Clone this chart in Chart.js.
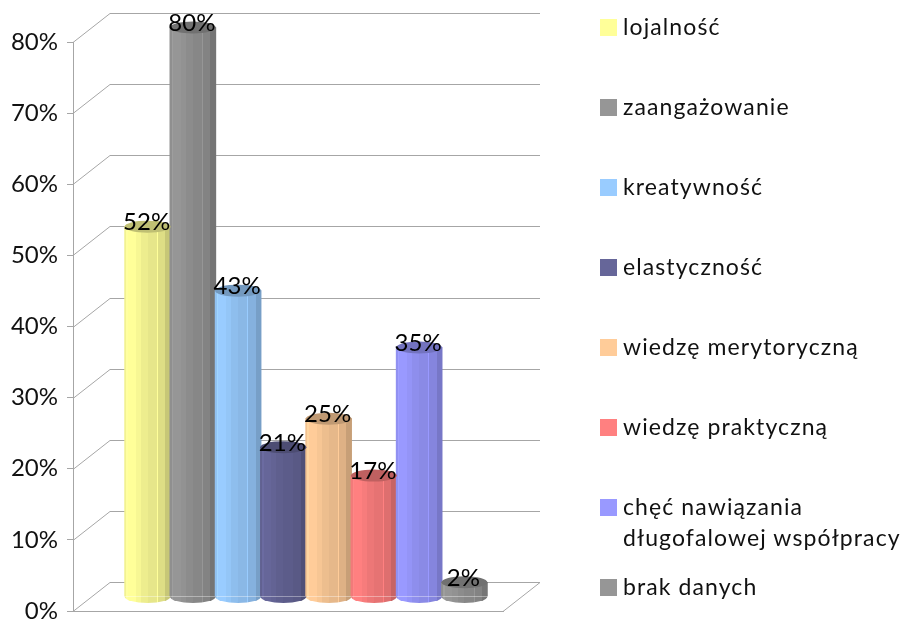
<!DOCTYPE html>
<html>
<head>
<meta charset="utf-8">
<script src="https://cdn.jsdelivr.net/npm/chart.js@4"></script>
<style>
    html, body { margin: 0; padding: 0; background: #fff; }
    #wrap { position: relative; width: 901px; height: 621px; overflow: hidden; }
    #legenda { position: absolute; left: 600px; top: 0; font-family: Lato, sans-serif; font-size: 23px; color: #111; letter-spacing: 1.1px; }
    .item { position: absolute; left: 0; white-space: nowrap; line-height: 31px; }
    .caixa { position: absolute; left: 0; top: 7px; width: 17px; height: 17px; }
    .texto { position: absolute; left: 23px; top: -1px; }
</style>
</head>
<body>
<div id="wrap">
    <canvas id="grafico" width="901" height="621"></canvas>
    <div id="legenda"></div>
</div>
<script>
const categorias = ['lojalność', 'zaangażowanie', 'kreatywność', 'elastyczność', 'wiedzę merytoryczną', 'wiedzę praktyczną', 'chęć nawiązania długofalowej współpracy', 'brak danych'];
const linhasLegenda = [['lojalność'], ['zaangażowanie'], ['kreatywność'], ['elastyczność'], ['wiedzę merytoryczną'], ['wiedzę praktyczną'], ['chęć nawiązania', 'długofalowej współpracy'], ['brak danych']];
const valores = [52, 80, 43, 21, 25, 17, 35, 2];
const cores = ['#ffff99', '#969696', '#99ccff', '#666699', '#ffcc99', '#ff8080', '#9999ff', '#969696'];

// faixas do cilindro: [inicio, brilho]
const faixas = [[0, 0.95], [0.04, 1.05], [0.07, 1], [0.24, 0.97], [0.35, 0.93], [0.5, 0.9], [0.7, 1.0], [0.72, 0.87], [0.88, 0.78]];
const corLinha = '#a6a6a6';
const fonte = 'Lato, sans-serif';
// profundidade da "caixa" 3D
const fundoX = 37;
const fundoY = -29;
const meioX = 18;
const meioY = -14.5;
const larguraBarra = 46;

const escurecer = (hex, f) => {
    const n = parseInt(hex.slice(1), 16);
    const c = [n >> 16, (n >> 8) & 255, n & 255].map(v => Math.min(255, Math.round(v * f)));
    return `rgb(${c[0]},${c[1]},${c[2]})`;
}

const gradiente = (ctx, x, cor) => {
    const g = ctx.createLinearGradient(x - larguraBarra / 2, 0, x + larguraBarra / 2, 0);
    faixas.forEach((f, i) => {
        const fim = i < faixas.length - 1 ? faixas[i + 1][0] : 1;
        g.addColorStop(f[0], escurecer(cor, f[1]));
        g.addColorStop(fim, escurecer(cor, f[1]));
    });
    return g;
}

const caixa3d = {
    id: 'caixa3d',
    beforeDatasetsDraw(chart) {
        const ctx = chart.ctx;
        const y = chart.scales.y;
        const a = chart.chartArea;
        ctx.save();
        ctx.strokeStyle = corLinha;
        ctx.lineWidth = 1;
        y.ticks.forEach((t) => {
            const py = Math.round(y.getPixelForValue(t.value)) + 0.5;
            ctx.beginPath();
            ctx.moveTo(a.left, py);
            ctx.lineTo(a.left + fundoX, py + fundoY);
            ctx.lineTo(a.right + fundoX, py + fundoY);
            ctx.stroke();
        });
        const base = Math.round(y.getPixelForValue(0)) + 0.5;
        ctx.beginPath();
        ctx.moveTo(a.right + fundoX, base + fundoY);
        ctx.lineTo(a.right, base);
        ctx.lineTo(a.left, base);
        ctx.stroke();
        ctx.restore();
        // as barras ficam no meio da profundidade
        ctx.save();
        ctx.translate(meioX, meioY);
    },
    afterDatasetsDraw(chart) {
        const ctx = chart.ctx;
        const barras = chart.getDatasetMeta(0).data;
        const y0 = chart.scales.y.getPixelForValue(0);
        barras.forEach((b, i) => {
            ctx.fillStyle = gradiente(ctx, b.x, cores[i]);
            ctx.beginPath();
            ctx.ellipse(b.x, y0, larguraBarra / 2, 6.5, 0, 0, Math.PI);
            ctx.fill();
        });
        barras.forEach((b, i) => {
            ctx.fillStyle = escurecer(cores[i], 0.75);
            ctx.beginPath();
            ctx.ellipse(b.x, b.y, larguraBarra / 2, 6, 0, 0, Math.PI * 2);
            ctx.fill();
        });
        ctx.fillStyle = '#000';
        ctx.font = '24px ' + fonte;
        ctx.textAlign = 'center';
        ctx.textBaseline = 'middle';
        barras.forEach((b, i) => {
            ctx.fillText(valores[i] + '%', b.x - 1, b.y - 4);
        });
        ctx.restore();
    }
}

const ctx = document.getElementById('grafico').getContext('2d');
let chart = new Chart(ctx, {
    type: 'bar',
    data: {
        labels: categorias,
        datasets: [{
            label: 'Odpowiedzi',
            data: valores.map((v, i) => ({ x: i, y: v })),
            backgroundColor: (c) => {
                if (!c.chart.chartArea) return cores[c.dataIndex];
                return gradiente(c.chart.ctx, c.chart.scales.x.getPixelForValue(c.dataIndex), cores[c.dataIndex]);
            },
            barThickness: larguraBarra,
            clip: false
        }]
    },
    options: {
        responsive: false,
        animation: false,
        layout: { padding: { left: 0, top: 42, right: 398, bottom: 10 } },
        plugins: { legend: { display: false }, tooltip: { enabled: false } },
        scales: {
            x: {
                type: 'linear',
                offset: false,
                min: -1.25,
                max: 8.25,
                afterFit: (s) => { s.height = 0; s.paddingLeft = 0; s.paddingRight = 0; },
                ticks: { display: false },
                grid: { offset: false, drawOnChartArea: false, drawTicks: false },
                border: { color: corLinha }
            },
            y: {
                min: 0,
                max: 80,
                afterFit: (s) => { s.width = 73; s.paddingTop = 0; s.paddingBottom = 0; },
                ticks: {
                    stepSize: 10,
                    padding: 9,
                    color: '#111',
                    font: { family: fonte, size: 24 },
                    callback: (v) => v + '%'
                },
                grid: { drawOnChartArea: false, tickLength: 6, color: corLinha },
                border: { color: corLinha }
            }
        }
    },
    plugins: [caixa3d]
});

const legenda = document.querySelector('#legenda');
linhasLegenda.forEach((linhas, i) => {
    const item = document.createElement('div');
    item.classList.add('item');
    item.style.top = (12 + i * 80) + 'px';
    item.innerHTML = `<div class="caixa" style="background:${cores[i]}"></div><div class="texto">${linhas.join('<br>')}</div>`;
    legenda.appendChild(item);
});
</script>
</body>
</html>
